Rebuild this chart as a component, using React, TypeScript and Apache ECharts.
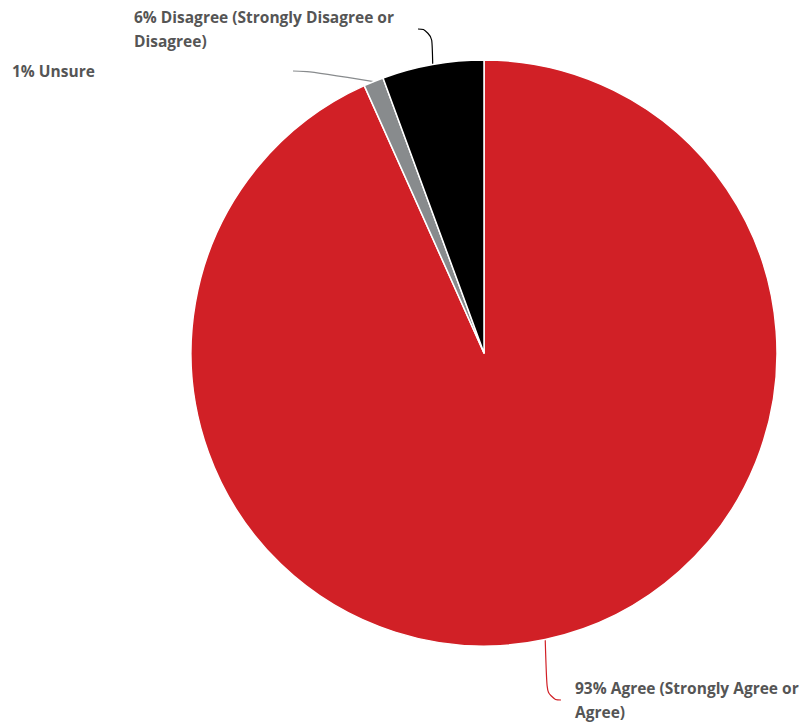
import React, { useEffect, useRef } from "react";
import * as echarts from "echarts";

const categories = [
  "Agree (Strongly Agree or Agree)",
  "Unsure",
  "Disagree (Strongly Disagree or Disagree)",
];
const values = [93.3, 1.1, 5.6];
const colors = ["#D12026", "#888B8D", "#000000"];

// label placement (layout only)
const labelPos = [
  { x: 561, y: 676, width: 245, pad: 14 },
  { x: 12, y: 59, width: 281, pad: 0 },
  { x: 134, y: 5, width: 284, pad: 0 },
];

export default function App() {
  const ref = useRef<HTMLDivElement>(null);
  useEffect(() => {
    document.body.style.margin = "0";
    const chart = echarts.init(ref.current!, null, { renderer: "svg" });
    chart.setOption({
      animation: false,
      backgroundColor: "#ffffff",
      series: [
        {
          type: "pie",
          center: [484, 353],
          radius: 293,
          startAngle: 90,
          clockwise: true,
          avoidLabelOverlap: false,
          itemStyle: { borderColor: "#ffffff", borderWidth: 1.5 },
          data: categories.map((name, i) => ({
            name,
            value: values[i],
            itemStyle: { color: colors[i] },
            labelLine: { lineStyle: { color: colors[i] } },
            label: {
              width: labelPos[i].width,
              padding: [0, 0, 0, labelPos[i].pad],
            },
          })),
          label: {
            show: true,
            position: "outside",
            formatter: (p: any) => Math.round(p.percent) + "% " + p.name,
            fontFamily: "'Open Sans', Lato, sans-serif",
            fontWeight: "bold",
            fontSize: 15.5,
            lineHeight: 24,
            color: "#555555",
            overflow: "break",
            align: "left",
          },
          labelLine: {
            show: true,
            smooth: 0.6,
            length: 10,
            length2: 14,
            lineStyle: { width: 1.2 },
          },
          labelLayout: (params: any) => {
            const p = labelPos[params.dataIndex];
            return { x: p.x, y: p.y, align: "left", verticalAlign: "top" };
          },
        },
      ],
    });
    return () => chart.dispose();
  }, []);
  return <div ref={ref} style={{ width: 804, height: 726 }} />;
}
